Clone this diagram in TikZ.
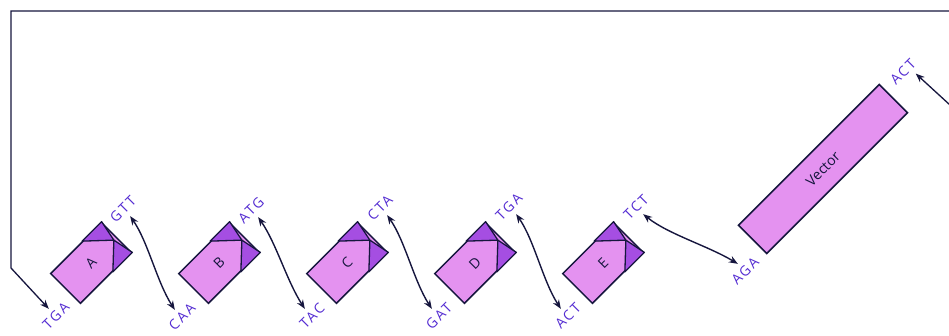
\documentclass[tikz,border=0pt]{standalone}
\usepackage{fontspec}
\setmainfont{Open Sans}
\newfontfamily\codfont[LetterSpace=15]{Open Sans}
\usetikzlibrary{calc,arrows.meta}
\definecolor{lightp}{RGB}{228,146,240}
\definecolor{darkp}{RGB}{165,78,226}
\definecolor{ink}{RGB}{22,22,62}
\definecolor{codon}{RGB}{84,44,210}
\begin{document}
\begin{tikzpicture}[x=1pt,y=-1pt,
  >={Stealth[length=9pt,width=7pt]},
  block/.style={draw=ink, line width=1.5pt, fill=lightp, minimum width=72pt,
    minimum height=42pt, rotate=45, inner sep=0pt, text=ink,
    font=\fontsize{14}{14}\selectfont},
  vec/.style={block, minimum width=199pt, minimum height=40pt},
  cod/.style={rotate=45, text=codon, font=\codfont\fontsize{14}{14}\selectfont,
    inner sep=1pt, outer sep=4pt},
  link/.style={draw=ink, line width=1.4pt, <->},
  fold/.style={fill=darkp, draw=ink, line width=1.3pt, line join=round}]
\useasboundingbox (0,0) rectangle (949,335);
\clip (0,0) rectangle (949,335);
\fill[white] (0,0) rectangle (949,335);
% blocks
\foreach \b [count=\i from 0] in {A,B,C,D,E} {
  \node[block] (\b) at ({91+128*\i},263) {\b};
  \draw[fold] (\b.north east) -- ($(\b.north east)!0.375!(\b.north west)$)
    -- ($(\b.east)!0.06!(\b.west)$) -- cycle;
  \draw[fold] ($(\b.east)!0.06!(\b.west)$) -- (\b.south east)
    -- ($(\b.south east)!0.375!(\b.south west)$) -- cycle;
}
\node[vec] (V) at (823,169) {Vector};
% codons
\node[cod] (TGAa) at (56,316) {TGA};
\node[cod] (GTT) at (123,209) {GTT};
\node[cod] (CAA) at (182,317) {CAA};
\node[cod] (ATG) at (251,210) {ATG};
\node[cod] (TAC) at (312,316) {TAC};
\node[cod] (CTA) at (380,208) {CTA};
\node[cod] (GAT) at (439,316) {GAT};
\node[cod] (TGAd) at (509,207) {TGA};
\node[cod] (ACTe) at (568,316) {ACT};
\node[cod] (TCT) at (636,207) {TCT};
\node[cod] (AGA) at (745,271) {AGA};
\node[cod] (ACTv) at (903,72) {ACT};
\coordinate (loopend) at ($(ACTv.south)!0.4!(ACTv.south east)$);
% connectors
\draw[link] (GTT.south) .. controls +(18,26) and +(-18,-28) .. (CAA.north);
\draw[link] (ATG.south) .. controls +(18,26) and +(-18,-28) .. (TAC.north);
\draw[link] (CTA.south) .. controls +(18,26) and +(-18,-28) .. (GAT.north);
\draw[link] (TGAd.south) .. controls +(18,26) and +(-18,-28) .. (ACTe.north);
\draw[link] (TCT.south) .. controls +(25,20) and +(-30,-18) .. (AGA.north);
\draw[link, line width=1.3pt, line join=miter] (TGAa.north) -- (11,268) -- (11,11) -- (962,11) -- (962,116) -- (loopend);
\end{tikzpicture}
\end{document}
